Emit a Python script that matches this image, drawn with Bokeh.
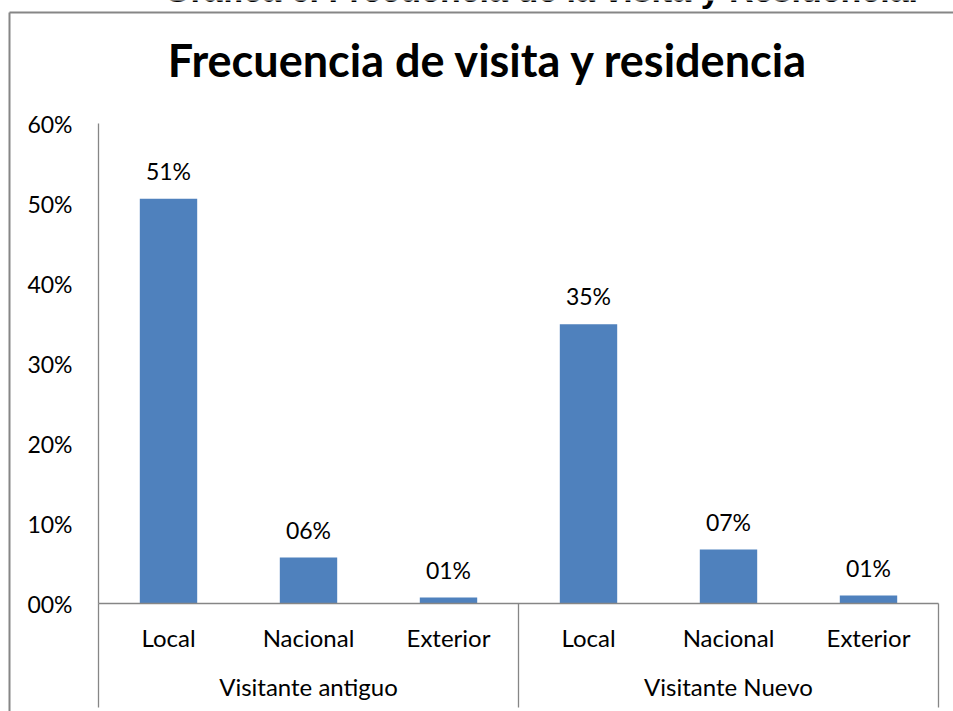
from bokeh.plotting import figure
from bokeh.models import (Range1d, LinearAxis, FixedTicker, CustomJSTickFormatter, Label,
                          ColumnDataSource)
from bokeh.embed import file_html
from bokeh.resources import INLINE
from bokeh.core.properties import value

# ---- data ----
groups = ["Visitante antiguo", "Visitante antiguo", "Visitante antiguo",
          "Visitante Nuevo", "Visitante Nuevo", "Visitante Nuevo"]
origins = ["Local", "Nacional", "Exterior", "Local", "Nacional", "Exterior"]
shares = [0.506, 0.0575, 0.0075, 0.349, 0.0675, 0.010]
share_labels = ["51%", "06%", "01%", "35%", "07%", "01%"]
y_ticks = [0.0, 0.1, 0.2, 0.3, 0.4, 0.5, 0.6]
y_tick_labels = ["00%", "10%", "20%", "30%", "40%", "50%", "60%"]
title_text = "Frecuencia de visita y residencia"
caption_text = "Gráfica 6. Frecuencia de la visita y Residencia."

# category slots (one unit each) and group spans derived from the lists above
slot_centers = [i + 0.5 for i in range(len(origins))]
group_names = []
group_bounds = [0]
for i, g in enumerate(groups):
    if not group_names or group_names[-1] != g:
        group_names.append(g)
        if i:
            group_bounds.append(i)
group_bounds.append(len(groups))
group_centers = [(a + b) / 2 for a, b in zip(group_bounds[:-1], group_bounds[1:])]

src = ColumnDataSource(dict(x=slot_centers, top=shares, lab=share_labels))

FONT = "Lato"
GRAY = "#868686"
BLUE = "#4F81BD"

# the frame covers the whole canvas; axes sit at fixed locations inside it
p = figure(width=953, height=711, x_range=Range1d(-0.7, 6.107143),
           y_range=Range1d(-0.135, 0.75375),
           output_backend="svg", toolbar_location=None,
           x_axis_location=None, y_axis_location=None, min_border=0)
p.outline_line_color = None
p.xgrid.visible = False
p.ygrid.visible = False
p.background_fill_color = "white"
p.border_fill_color = "white"

p.vbar(x="x", top="top", bottom=0, width=0.41, source=src, fill_color=BLUE, line_color=None)
p.text(x="x", y="top", text="lab", source=src, y_offset=-28, text_align="center",
       text_baseline="middle", text_font=value(FONT), text_font_size="23px",
       text_color="black")

# value axis
ya = LinearAxis(fixed_location=0, bounds=(0, 0.6), ticker=FixedTicker(ticks=y_ticks),
                formatter=CustomJSTickFormatter(args=dict(labels=y_tick_labels),
                                                code="return labels[index];"),
                major_tick_out=0, major_tick_in=0, minor_tick_line_color=None,
                major_label_standoff=26, axis_line_color=GRAY, axis_line_width=1.3,
                major_label_text_font=FONT, major_label_text_font_size="23px",
                major_label_text_color="black")
p.add_layout(ya, "left")

# category axis (inner level) on the zero line
xa = LinearAxis(fixed_location=0, bounds=(0, len(origins)), ticker=FixedTicker(ticks=slot_centers),
                formatter=CustomJSTickFormatter(args=dict(labels=origins),
                                                code="return labels[index];"),
                axis_line_color=GRAY, axis_line_width=1.3, major_tick_line_color=None,
                minor_tick_line_color=None, major_tick_out=0, major_tick_in=0,
                major_label_standoff=19, major_label_text_font=FONT,
                major_label_text_font_size="24px", major_label_text_color="black")
p.add_layout(xa, "below")

# category axis (group level) with separators extending through the labels
ga = LinearAxis(fixed_location=0, ticker=FixedTicker(ticks=group_centers),
                formatter=CustomJSTickFormatter(args=dict(labels=group_names),
                                                code="return labels[index];"),
                axis_line_color=None, major_tick_line_color=None, minor_tick_line_color=None,
                major_tick_out=0, major_tick_in=0, major_label_standoff=68,
                major_label_text_font=FONT, major_label_text_font_size="24px",
                major_label_text_color="black")
p.add_layout(ga, "below")

sep = LinearAxis(ticker=FixedTicker(ticks=group_bounds), fixed_location=0,
                 major_tick_out=104, major_tick_in=0, axis_line_color=None,
                 major_tick_line_color=GRAY, major_tick_line_width=1.3,
                 minor_tick_line_color=None, major_label_text_alpha=0)
p.add_layout(sep, "below")

# chart border: left edge = axis line, top edge = one long tick
border = LinearAxis(ticker=FixedTicker(ticks=[0.73875]), fixed_location=-0.6357,
                    bounds=(-0.135, 0.73875), major_tick_out=944, major_tick_in=0,
                    axis_line_color=GRAY, axis_line_width=2,
                    major_tick_line_color=GRAY, major_tick_line_width=2,
                    minor_tick_line_color=None, major_label_text_alpha=0)
p.add_layout(border, "right")

# title and (clipped) caption
p.add_layout(Label(x=2.786, y=0.679, text=title_text,
                   text_align="center", text_baseline="middle",
                   text_font=FONT, text_font_size="45px", text_font_style="bold",
                   text_color="black"))
p.add_layout(Label(x=3.161, y=0.7675, text=caption_text,
                   text_align="center", text_baseline="middle",
                   text_font="Liberation Sans", text_font_size="34px", text_font_style="bold",
                   text_color="black"))

open("out.html", "w").write(file_html(p, INLINE))
